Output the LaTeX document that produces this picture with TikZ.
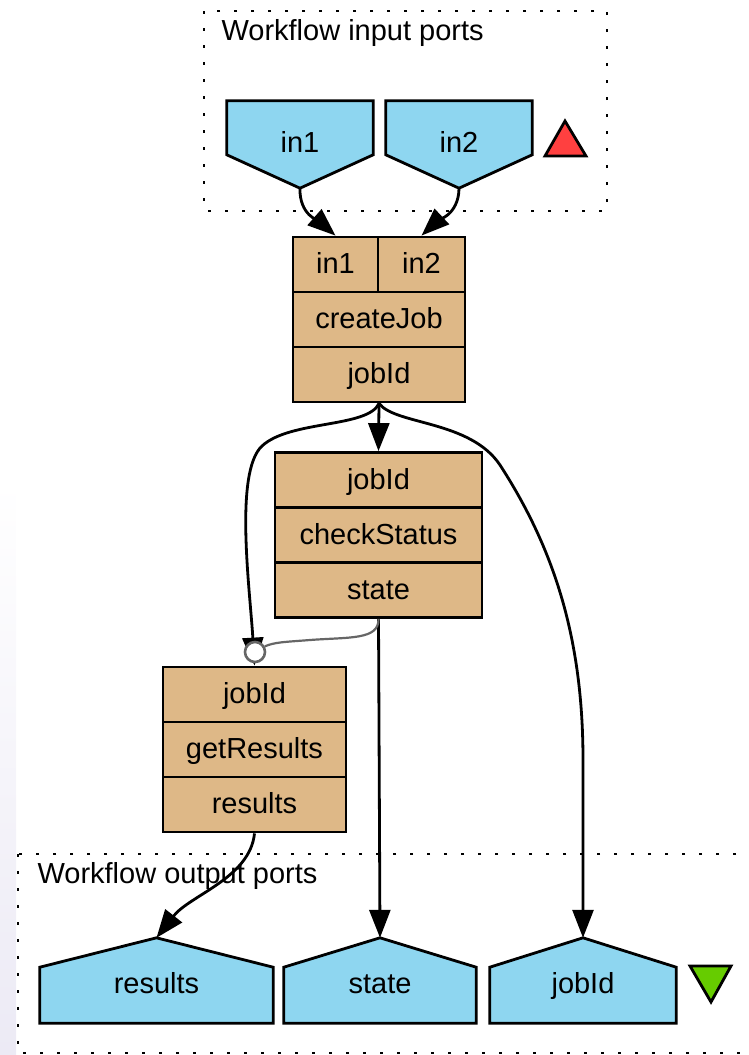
\documentclass[tikz,border=0pt]{standalone}
\usepackage{fontspec}
\setmainfont{Liberation Sans}
\usetikzlibrary{arrows.meta, calc, backgrounds}
\definecolor{portblue}{HTML}{8ED6F0}
\definecolor{procbrown}{HTML}{DEB887}
\definecolor{inred}{HTML}{FF4040}
\definecolor{outgreen}{HTML}{66CC00}
\definecolor{lavstrip}{RGB}{236,234,245}

\begin{document}
\begin{tikzpicture}[x=1pt, y=-1pt,
    lbl/.style={font=\fontsize{29}{35}\selectfont},
    field/.style={draw, line width=2.8pt, fill=procbrown, minimum height=55pt, inner sep=0pt, text height=20pt, text depth=2pt, lbl},
    inport/.style={inner sep=0pt, minimum height=87pt, text height=20pt, text depth=5pt, lbl},
    outport/.style={inner sep=0pt, minimum height=85pt, text height=25pt, text depth=0pt, lbl},
    portshape/.style={draw, line width=2.8pt, fill=portblue, line join=miter},
    cluster/.style={line width=2.8pt, dash pattern=on 2.8pt off 14.2pt},
    link/.style={line width=2.8pt, -{Triangle[length=28pt, width=21pt]}},
    ctrl/.style={line width=2.2pt, black!60}]
    \useasboundingbox (0,0) rectangle (749,1055);
    \clip (0,0) rectangle (749,1055);
    \shade[top color=white, bottom color=lavstrip] (0,480) rectangle (16,1055);

    % clusters
    \draw[cluster] (204,11) rectangle (607,211);
    \node[lbl, anchor=base west] (inlabel) at (218,40) {Workflow input ports};
    \draw[cluster] (18,854) rectangle (790,1053);
    \node[lbl, anchor=base west] (outlabel) at (34,883) {Workflow output ports};

    % ports
    \node[inport, minimum width=146pt] (in1) at (300,144.5) {in1};
    \node[inport, minimum width=146pt] (in2) at (459,144.5) {in2};
    \node[outport, minimum width=233pt] (res) at (156.5,980.5) {results};
    \node[outport, minimum width=192pt] (st) at (380,980.5) {state};
    \node[outport, minimum width=186pt] (jid) at (583,980.5) {jobId};
    \begin{scope}[on background layer]
        \foreach \p in {in1,in2}
            \draw[portshape] (\p.north west) -- (\p.north east) -- ($(\p.north east)+(0,54)$)
                -- (\p.south) -- ($(\p.north west)+(0,54)$) -- cycle;
        \foreach \p in {res,st,jid}
            \draw[portshape] (\p.north) -- ($(\p.south east)+(0,-56)$) -- (\p.south east)
                -- (\p.south west) -- ($(\p.south west)+(0,-56)$) -- cycle;
    \end{scope}
    \draw[line width=2.8pt, fill=inred] (565,121) -- (586,156) -- (545,156) -- cycle;
    \draw[line width=2.8pt, fill=outgreen] (690,966) -- (731,966) -- (711,1002) -- cycle;

    % processors
    \node[field, minimum width=85pt] (cjin1) at (335.5,264.5) {in1};
    \node[field, minimum width=87pt] (cjin2) at (421.5,264.5) {in2};
    \node[field, minimum width=172pt] (cjname) at (379,319.5) {createJob};
    \node[field, minimum width=172pt] (cjout) at (379,374.5) {jobId};

    \node[field, minimum width=207pt] (csin) at (378.5,480) {jobId};
    \node[field, minimum width=207pt] (csname) at (378.5,535) {checkStatus};
    \node[field, minimum width=207pt] (csout) at (378.5,590) {state};

    \node[field, minimum width=183pt] (grin) at (254.5,694.5) {jobId};
    \node[field, minimum width=183pt] (grname) at (254.5,749.5) {getResults};
    \node[field, minimum width=183pt] (grout) at (254.5,804.5) {results};

    % links
    \draw[link] (in1.south) .. controls (299,215) and (320,222) .. (cjin1.north);
    \draw[link] (in2.south) .. controls (459,215) and (436,222) .. (cjin2.north);
    \draw[link] (cjout.south) -- (csin.north);
    \draw[link] (cjout.south) .. controls (395,425) and (470,420) .. (500,465)
        .. controls (555,550) and (583,640) .. (583,760) -- (jid.north);
    \draw[link] (cjout.south) .. controls (368,428) and (290,420) .. (262,446)
        .. controls (234,472) and (250,590) .. (grin.north);
    \draw[link] (csout.south) -- (st.north);
    \draw[link] (grout.south) .. controls (250,878) and (190,895) .. (res.north);

    % control link
    \node[circle, draw, black!60, line width=2.6pt, fill=white, minimum size=20pt, inner sep=0pt] (ctrldot) at (255,652) {};
    \draw[ctrl] (csout.south) .. controls (379,640) and (350,637) .. (310,640)
        .. controls (285,642) and (275,642) .. (ctrldot.30);
\end{tikzpicture}
\end{document}
